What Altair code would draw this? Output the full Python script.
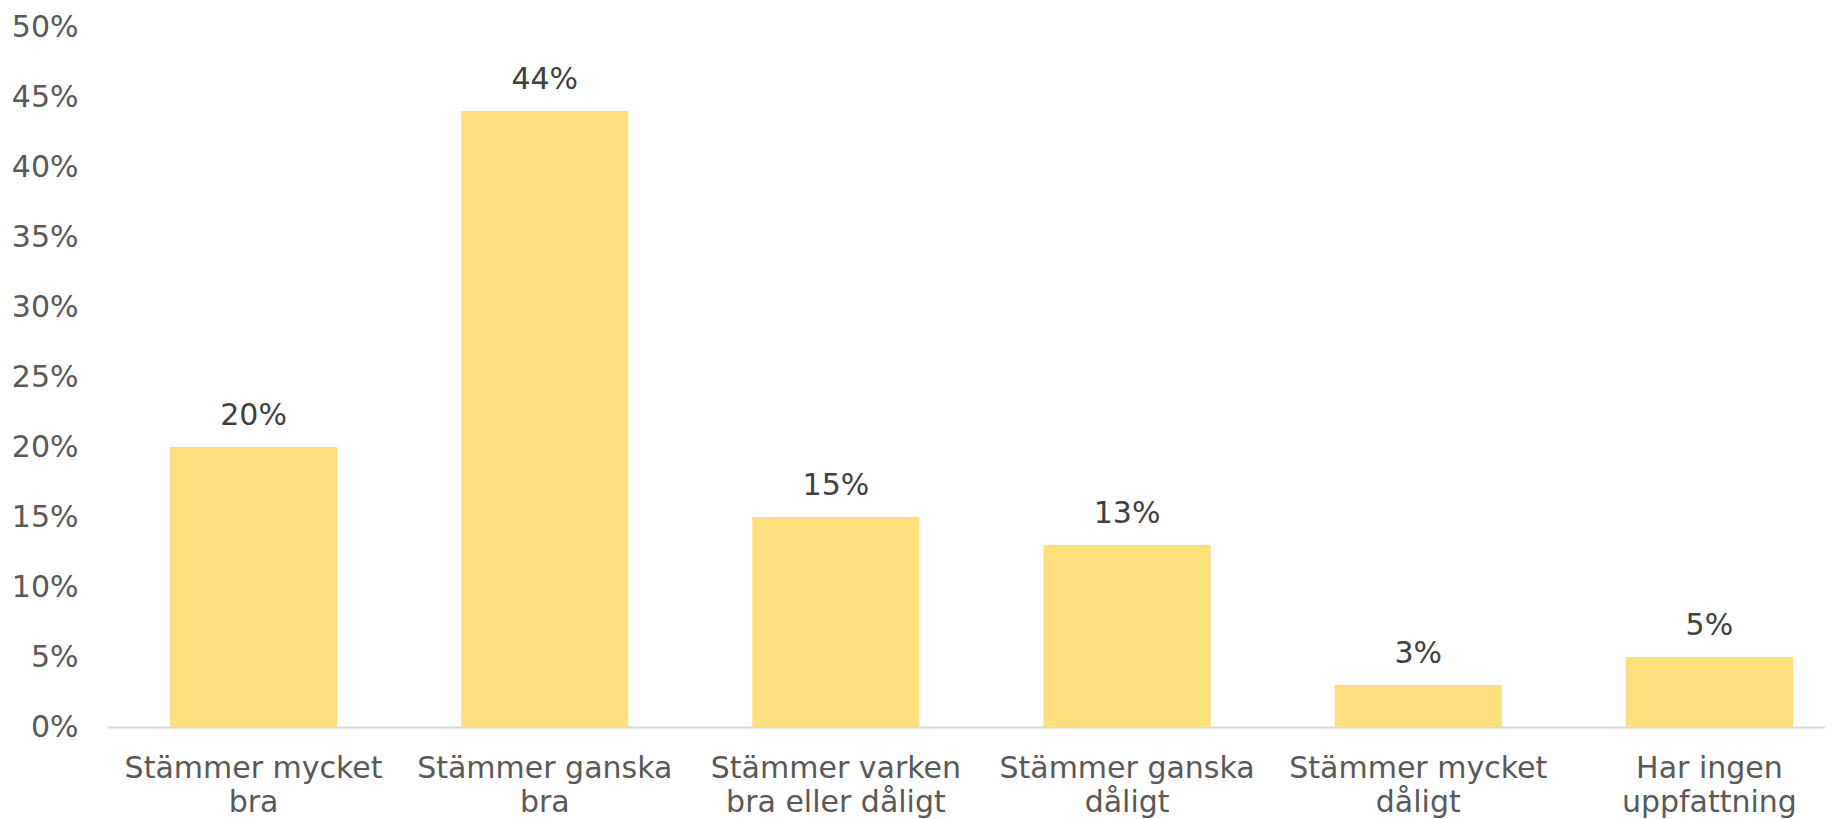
import altair as alt
import pandas as pd

categories = [
    "Stämmer mycket|bra",
    "Stämmer ganska|bra",
    "Stämmer varken|bra eller dåligt",
    "Stämmer ganska|dåligt",
    "Stämmer mycket|dåligt",
    "Har ingen|uppfattning",
]
values = [20, 44, 15, 13, 3, 5]
y_ticks = [0, 5, 10, 15, 20, 25, 30, 35, 40, 45, 50]

df = pd.DataFrame({"cat": categories, "val": values})

FONT = "DejaVu Sans"

base = alt.Chart(df).encode(
    x=alt.X(
        "cat:N",
        sort=categories,
        scale=alt.Scale(range=[0, 1747], paddingInner=0.426, paddingOuter=0.213),
        axis=alt.Axis(
            title=None,
            labelAngle=0,
            labelExpr="split(datum.label, '|')",
            labelFont=FONT,
            labelFontSize=30,
            labelColor="#595959",
            labelLineHeight=34,
            labelPadding=26,
            labelBaseline="top",
            labelLimit=0,
            ticks=False,
            domainColor="#D9D9D9",
            domainWidth=2,
            grid=False,
        ),
    ),
    y=alt.Y(
        "val:Q",
        scale=alt.Scale(domain=[0, 50], nice=False),
        axis=alt.Axis(
            title=None,
            values=y_ticks,
            labelExpr="datum.value + '%'",
            labelFont=FONT,
            labelFontSize=30,
            labelColor="#595959",
            labelPadding=30,
            ticks=False,
            domain=False,
            grid=False,
        ),
    ),
)

bars = base.mark_bar(color="#FFDE7C")
labels = base.mark_text(
    dy=-22, baseline="alphabetic", font=FONT, fontSize=30, color="#404040"
).encode(text=alt.Text("label:N")).transform_calculate(label="datum.val + '%'")

chart = (
    alt.layer(bars, labels)
    .properties(
        width=1717,
        height=700,
        autosize=alt.AutoSizeParams(type="none"),
        padding={"left": 100, "top": 19, "right": 0, "bottom": 92},
    )
    .configure_view(stroke=None)
)

chart.save("out.html", embed_options={"renderer": "svg", "actions": False})
